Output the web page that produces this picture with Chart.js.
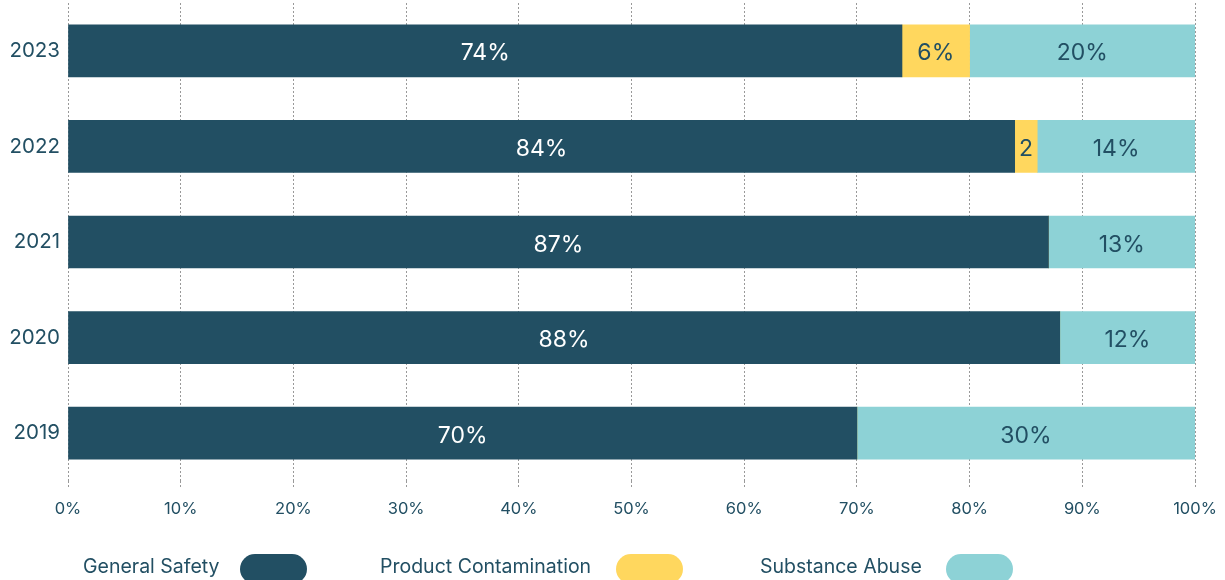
<!DOCTYPE html>
<html>
<head>
<meta charset="utf-8">
<script src="https://cdn.jsdelivr.net/npm/chart.js@4/dist/chart.umd.min.js"></script>
<style>
  html, body { margin: 0; padding: 0; background: #ffffff; }
  #wrap { position: relative; width: 1225px; height: 580px; }
</style>
</head>
<body>
<div id="wrap"><canvas id="chart" width="1225" height="580"></canvas></div>
<script>
// Share of incidents by type, per year (percent of total)
const years = ['2023', '2022', '2021', '2020', '2019'];
const generalSafety = [74, 84, 87, 88, 70];
const productContamination = [6, 2, 0, 0, 0];
const substanceAbuse = [20, 14, 13, 12, 30];
const seriesNames = ['General Safety', 'Product Contamination', 'Substance Abuse'];
const xTicks = [0, 10, 20, 30, 40, 50, 60, 70, 80, 90, 100];

const DARK = '#224f63';
const YELLOW = '#ffd75e';
const TEAL = '#8dd2d6';
const FONT = 'Inter, "Open Sans", sans-serif';

// Writes each segment's value in the middle of its bar
const barValueLabels = {
  id: 'barValueLabels',
  afterDatasetsDraw(chart) {
    const ctx = chart.ctx;
    ctx.save();
    ctx.font = '400 23px ' + FONT;
    ctx.textAlign = 'center';
    ctx.textBaseline = 'alphabetic';
    chart.data.datasets.forEach((ds, di) => {
      const meta = chart.getDatasetMeta(di);
      meta.data.forEach((bar, i) => {
        const v = ds.data[i];
        if (!v) return;
        const w = Math.abs(bar.x - bar.base);
        let txt = v + '%';
        if (ctx.measureText(txt).width > w - 4) txt = String(v);
        ctx.fillStyle = ds.labelColor;
        ctx.fillText(txt, (bar.x + bar.base) / 2, bar.y + 9.5);
      });
    });
    ctx.restore();
  }
};

// Legend along the bottom: name first, rounded colour swatch after it
const legendTextX = [83, 380, 760];
const legendSwatchX = [240, 616, 946];
const pillLegend = {
  id: 'pillLegend',
  afterDraw(chart) {
    const ctx = chart.ctx;
    ctx.save();
    ctx.font = '400 19.5px ' + FONT;
    ctx.textBaseline = 'alphabetic';
    ctx.textAlign = 'left';
    chart.data.datasets.forEach((ds, i) => {
      ctx.fillStyle = DARK;
      ctx.fillText(ds.label, legendTextX[i], 573);
      ctx.fillStyle = ds.backgroundColor;
      ctx.beginPath();
      ctx.roundRect(legendSwatchX[i], 554, 67, 30, 15);
      ctx.fill();
    });
    ctx.restore();
  }
};

const ctx = document.getElementById('chart').getContext('2d');
new Chart(ctx, {
  type: 'bar',
  data: {
    labels: years,
    datasets: [
      { label: seriesNames[0], data: generalSafety, backgroundColor: DARK, labelColor: '#ffffff' },
      { label: seriesNames[1], data: productContamination, backgroundColor: YELLOW, labelColor: DARK },
      { label: seriesNames[2], data: substanceAbuse, backgroundColor: TEAL, labelColor: DARK }
    ]
  },
  options: {
    indexAxis: 'y',
    responsive: false,
    animation: false,
    maintainAspectRatio: false,
    layout: { padding: { top: 3, right: 30, bottom: 58, left: 0 } },
    datasets: { bar: { barThickness: 52, borderWidth: 0 } },
    plugins: {
      legend: { display: false },
      tooltip: { enabled: false }
    },
    scales: {
      x: {
        stacked: true,
        min: 0,
        max: 100,
        afterBuildTicks(scale) { scale.ticks = xTicks.map(v => ({ value: v })); },
        afterFit(scale) {
          scale.height = 41;
          scale.paddingLeft = 0;
          scale.paddingRight = 0;
        },
        border: { display: false, dash: [2, 2] },
        grid: {
          color: '#999999',
          lineWidth: 1,
          tickLength: 6,
          drawTicks: true,
          tickBorderDash: [2, 2]
        },
        ticks: {
          padding: 12,
          color: DARK,
          font: { family: FONT, size: 16.5 },
          callback: v => v + '%'
        }
      },
      y: {
        stacked: true,
        border: { display: false },
        grid: { display: false, drawTicks: false },
        afterFit(scale) {
          scale.width = 68;
          scale.paddingTop = 0;
          scale.paddingBottom = 0;
        },
        ticks: {
          padding: 8,
          color: DARK,
          font: { family: FONT, size: 20.5 }
        }
      }
    }
  },
  plugins: [barValueLabels, pillLegend]
});
</script>
</body>
</html>
